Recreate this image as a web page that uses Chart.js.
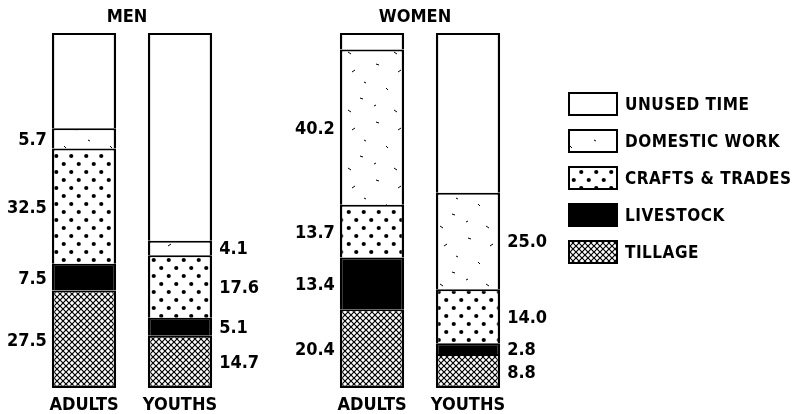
<!DOCTYPE html>
<html><head><meta charset="utf-8">
<script src="https://cdn.jsdelivr.net/npm/chart.js@4/dist/chart.umd.min.js"></script>
<style>html,body{margin:0;padding:0;background:#fff;}#wrap{position:relative;width:797px;height:414px;}</style>
</head><body><div id="wrap"><canvas id="c" width="797" height="414"></canvas></div>
<script>
// ---- data ----
const categories = ['ADULTS', 'YOUTHS', '', 'ADULTS', 'YOUTHS'];
const groupOf    = ['MEN', 'MEN', '', 'WOMEN', 'WOMEN'];
const groups     = ['MEN', 'WOMEN'];
const seriesNames = ['TILLAGE', 'LIVESTOCK', 'CRAFTS & TRADES', 'DOMESTIC WORK', 'UNUSED TIME'];
const tillage   = [27.5, 14.7, null, 20.4, 8.8];
const livestock = [7.5, 5.1, null, 13.4, 2.8];
const crafts    = [32.5, 17.6, null, 13.7, 14.0];
const domestic  = [5.7, 4.1, null, 40.2, 25.0];
const unused    = [26.8, 58.5, null, 4.3, 41.4];
const menTotal = 100;
const womenTotal = 92;

// ---- patterns ----
const canvas = document.getElementById('c');
const mainCtx = canvas.getContext('2d');
function tile(w, h, draw) {
  const c = document.createElement('canvas'); c.width = w; c.height = h;
  const x = c.getContext('2d'); x.fillStyle = '#fff'; x.fillRect(0, 0, w, h);
  x.strokeStyle = '#000'; x.fillStyle = '#000'; draw(x);
  return mainCtx.createPattern(c, 'repeat');
}
const patCross = tile(6, 6, x => {
  x.lineWidth = 1.2; x.beginPath();
  x.moveTo(-1, -1); x.lineTo(7, 7); x.moveTo(7, -1); x.lineTo(-1, 7); x.stroke();
});
const patDots = tile(15, 16, x => {
  x.beginPath(); x.arc(3.75, 4, 2.1, 0, Math.PI * 2); x.fill();
  x.beginPath(); x.arc(11.25, 12, 2.1, 0, Math.PI * 2); x.fill();
});
const patDomestic = tile(46, 58, x => {
  x.lineWidth = 1;
  const marks = [[8, 6, 3, 1], [30, 14, 3, -2], [18, 30, 2, 2], [38, 40, 3, 1], [6, 48, 2, -1], [26, 52, 3, 2], [42, 24, 2, 1]];
  marks.forEach(m => { x.beginPath(); x.moveTo(m[0], m[1]); x.lineTo(m[0] + m[2], m[1] + m[3]); x.stroke(); });
});
const fills = {
  'TILLAGE': patCross, 'LIVESTOCK': '#000', 'CRAFTS & TRADES': patDots,
  'DOMESTIC WORK': patDomestic, 'UNUSED TIME': '#fff'
};
const seriesValues = [tillage, livestock, crafts, domestic, unused];

const datasets = [];
groups.forEach(g => {
  seriesNames.forEach((name, si) => {
    datasets.push({
      label: name,
      series: name,
      seriesIndex: si,
      data: seriesValues[si].map((v, i) => groupOf[i] === g ? v : null),
      yAxisID: g === 'MEN' ? 'yM' : 'yW',
      stack: 'all',
      backgroundColor: fills[name],
      borderColor: '#000',
      borderSkipped: false,
      borderWidth: { left: 2.5, right: 2.5, top: 2, bottom: si === 0 ? 2.5 : 0 }
    });
  });
});

const FONT = '"DejaVu Sans Condensed", "DejaVu Sans", sans-serif';

const valueLabels = {
  id: 'valueLabels',
  afterDatasetsDraw(chart) {
    const ctx = chart.ctx; ctx.save();
    ctx.font = 'bold 18px ' + FONT; ctx.fillStyle = '#000'; ctx.textBaseline = 'alphabetic';
    chart.data.datasets.forEach((ds, di) => {
      if (ds.series === 'UNUSED TIME') return;
      const meta = chart.getDatasetMeta(di);
      meta.data.forEach((bar, i) => {
        const v = ds.data[i]; if (v == null) return;
        const p = bar.getProps(['x', 'y', 'base', 'width'], true);
        const cy = (p.y + p.base) / 2 + 6.5;
        const left = categories[i] === 'ADULTS';
        ctx.textAlign = left ? 'right' : 'left';
        ctx.fillText(v.toFixed(1), left ? p.x - p.width / 2 - 5 : p.x + p.width / 2 + 7, cy);
      });
    });
    ctx.restore();
  }
};

const groupTitles = {
  id: 'groupTitles',
  afterDraw(chart) {
    const ctx = chart.ctx; ctx.save();
    ctx.font = 'bold 18px ' + FONT; ctx.fillStyle = '#000';
    ctx.textAlign = 'center'; ctx.textBaseline = 'alphabetic';
    const xs = chart.scales.x;
    groups.forEach(g => {
      const idx = groupOf.map((gg, i) => gg === g ? i : -1).filter(i => i >= 0);
      const cx = (xs.getPixelForValue(idx[0]) + xs.getPixelForValue(idx[idx.length - 1])) / 2 - 5;
      ctx.fillText(g, cx, 22);
    });
    ctx.restore();
  }
};

const customLegend = {
  id: 'customLegend',
  afterDraw(chart) {
    const ctx = chart.ctx; ctx.save();
    const x0 = chart.chartArea.right + 52;
    const y0 = 92, pitch = 37, bw = 50, bh = 24;
    ctx.font = 'bold 17px ' + FONT; ctx.textBaseline = 'alphabetic'; ctx.textAlign = 'left';
    ctx.letterSpacing = '0.5px';
    seriesNames.slice().reverse().forEach((name, k) => {
      const y = y0 + k * pitch;
      ctx.fillStyle = fills[name]; ctx.fillRect(x0, y, bw, bh);
      ctx.strokeStyle = '#000'; ctx.lineWidth = 2; ctx.strokeRect(x0 + 1, y + 1, bw - 2, bh - 2);
      ctx.fillStyle = '#000';
      ctx.fillText(name, x0 + 57, y + bh / 2 + 6);
    });
    ctx.restore();
  }
};

new Chart(canvas, {
  type: 'bar',
  data: { labels: categories, datasets },
  options: {
    responsive: false, animation: false,
    layout: { padding: { left: 36, right: 281, top: 33, bottom: -8 } },
    categoryPercentage: 1, barPercentage: 0.67,
    plugins: { legend: { display: false }, tooltip: { enabled: false } },
    scales: {
      x: {
        stacked: true,
        grid: { display: false, drawTicks: false }, border: { display: false },
        ticks: { color: '#000', padding: 8, font: { family: FONT, size: 18, weight: 'bold', lineHeight: 1 }, maxRotation: 0, autoSkip: false }
      },
      yM: { stacked: true, display: false, min: 0, max: menTotal },
      yW: { stacked: true, display: false, min: 0, max: womenTotal }
    }
  },
  plugins: [valueLabels, groupTitles, customLegend]
});
</script></body></html>
